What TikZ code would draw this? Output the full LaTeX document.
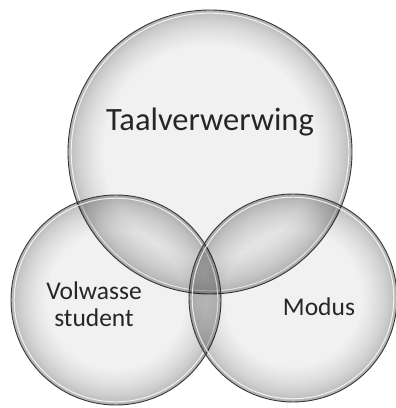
\documentclass[tikz,border=0pt]{standalone}
\usepackage{fontspec}
\setmainfont{Carlito}
\begin{document}
\begin{tikzpicture}[x=1pt,y=1pt,
  bubble/.style={circle, inner sep=0pt, outer sep=0pt},
  label/.style={text=black!85, align=center},
]
\useasboundingbox (0,0) rectangle (396,408);
\fill[white] (0,0) rectangle (396,408);

% centres and radii of the three sets
\node[bubble, minimum size=284pt] (top) at (210,256) {};
\node[bubble, minimum size=210pt] (left) at (116,108) {};
\node[bubble, minimum size=208pt] (right) at (293,110) {};

% one translucent glossy disc: light centre, shading that deepens towards the rim
\newcommand{\glossdisc}[2]{%
  \fill[black, opacity=0.055] (#1.center) circle (#2);
  \begin{scope}
    \clip (#1.center) circle (#2);
    \foreach \k in {1,...,24}
      \draw[black, opacity=0.013, line width=0.12*\k*\k pt] (#1.center) circle (#2);
  \end{scope}
  \draw[white, opacity=0.8, line width=1pt] (#1.center) circle (#2-3.2);
  \draw[black!78, line width=0.9pt] (#1.center) circle (#2);
}
\glossdisc{top}{142}
\glossdisc{left}{105}
\glossdisc{right}{104}

% labels
\node[label, font=\fontsize{32.5}{35}\selectfont] (t1) at (210,286) {Taalverwerwing};
\node[label, font=\fontsize{25.5}{27}\selectfont] (t2) at (94,104) {Volwasse\\student};
\node[label, font=\fontsize{25.5}{27}\selectfont] (t3) at (319,101) {Modus};
\end{tikzpicture}
\end{document}
